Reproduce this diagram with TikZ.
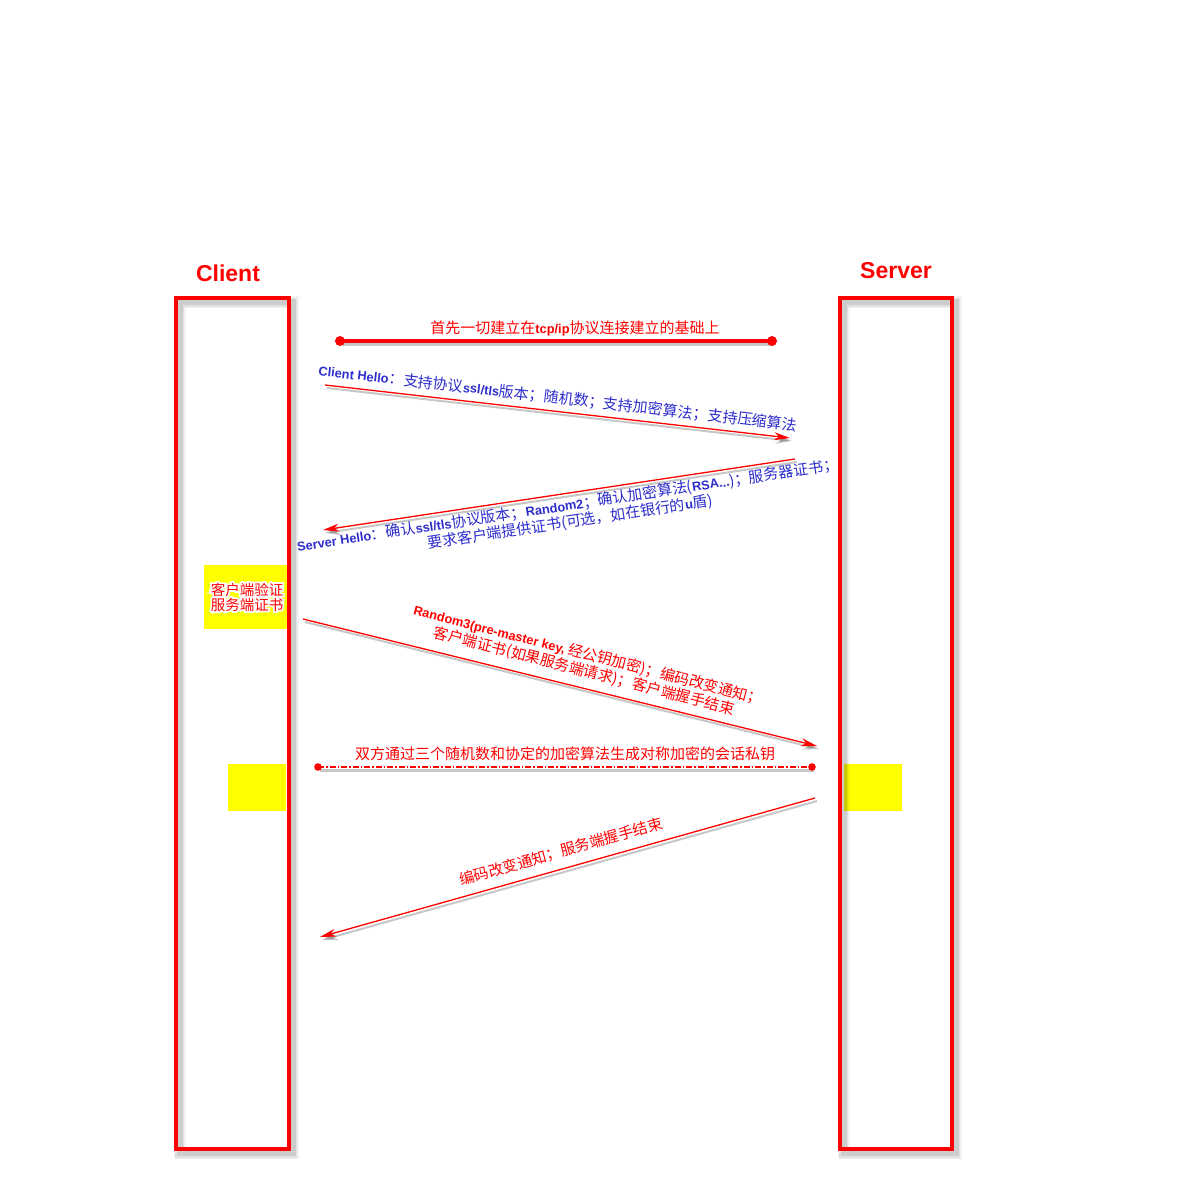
\documentclass[tikz,border=0pt]{standalone}
\usepackage{fontspec}
\setmainfont{Liberation Sans}
\newfontfamily\cjk{Noto Sans CJK SC}
\newfontfamily\cjkhalo{Noto Sans CJK SC}[FakeBold=25]
\usetikzlibrary{arrows.meta}
\definecolor{msgred}{RGB}{255,0,0}
\definecolor{msgblue}{RGB}{45,45,205}
\definecolor{hiyellow}{RGB}{255,255,0}
% bold Latin words inside the Chinese labels
\newcommand\lb[1]{{\rmfamily\bfseries\fontsize{12.8}{17}\selectfont #1}}
\begin{document}
\begin{tikzpicture}[x=1pt,y=-1pt,
  every node/.style={inner sep=0pt, outer sep=0pt, font=\cjk\fontsize{15}{17}\selectfont},
  lifebox/.style={draw=msgred, line width=4pt},
  actor/.style={text=msgred, font=\rmfamily\bfseries\fontsize{23}{26}\selectfont},
  hilite/.style={fill=hiyellow},
  msg/.style={draw=msgred, line width=1.3pt, -{Stealth[length=16pt,width=8pt,inset=5pt]}},
  msgshade/.style={draw=black, opacity=0.22, line width=2pt,
    -{Stealth[length=16pt,width=9pt,inset=5pt]},
    transform canvas={shift={(2pt,-3pt)}}},
  linkshade/.style={draw=black, opacity=0.22, line width=#1,
    transform canvas={shift={(2pt,-3pt)}}},
  rednote/.style={text=msgred},
  bluenote/.style={text=msgblue},
]
\useasboundingbox (0,0) rectangle (1200,1200);

% highlighted regions on the lifelines
\node (hl1) [hilite, minimum width=86pt, minimum height=64pt] at (247,597) {};
\node (hl2) [hilite, minimum width=58pt, minimum height=47pt] at (257,787.5) {};
\node (hl3) [hilite, minimum width=58pt, minimum height=47pt] at (873,787.5) {};

% lifeline boxes with soft shadows
\node (client) [minimum width=113pt, minimum height=851pt] at (232,723.5) {};
\node (server) [minimum width=112pt, minimum height=851pt] at (895.5,723.5) {};
\foreach \w/\o in {12/0.05, 9/0.07, 6/0.09} {
  \draw[black, opacity=\o, line width=\w pt]
    ([shift={(4,4)}]client.north west) rectangle ([shift={(4,4)}]client.south east);
  \draw[black, opacity=\o, line width=\w pt]
    ([shift={(4,4)}]server.north west) rectangle ([shift={(4,4)}]server.south east);
}
\draw[lifebox] (client.north west) rectangle (client.south east);
\draw[lifebox] (server.north west) rectangle (server.south east);

\node (clientlbl) [actor] at (228,273) {Client};
\node (serverlbl) [actor] at (896,271) {Server};

% note in the first highlighted region: a stroked white copy gives the halo
\node (hl1halo) [text=white, align=center, font=\cjkhalo\fontsize{14.5}{15}\selectfont]
  at (hl1.center) {客户端验证\\服务端证书};
\node (hl1txt) [rednote, align=center, font=\cjk\fontsize{14.5}{15}\selectfont]
  at (hl1.center) {客户端验证\\服务端证书};

% connection set-up
\coordinate (tcpA) at (340,341);
\coordinate (tcpB) at (772,341);
\draw[linkshade=4.5pt] (tcpA) -- (tcpB);
\draw[msgred, line width=3.5pt] (tcpA) -- (tcpB);
\fill[msgred] (tcpA) circle (5pt) (tcpB) circle (5pt);
\node (tcptxt) [rednote] at (575,328) {首先一切建立在\lb{tcp/ip}协议连接建立的基础上};

% Client Hello
\coordinate (chA) at (325,385);
\coordinate (chB) at (790,438);
\draw[msgshade] (chA) -- (chB);
\draw[msg] (chA) -- (chB);
\node (chtxt) [bluenote, rotate=-6.6] at (558,398)
  {\lb{Client Hello}：支持协议\lb{ssl/tls}版本；随机数；支持加密算法；支持压缩算法};

% Server Hello
\coordinate (shA) at (795,459);
\coordinate (shB) at (323,530);
\draw[msgshade] (shA) -- (shB);
\draw[msg] (shA) -- (shB);
\node (shtxt) [bluenote, rotate=8.6, align=center] at (569,514)
  {\lb{Server Hello}：确认\lb{ssl/tls}协议版本；\lb{Random2}；确认加密算法(\lb{RSA...})；服务器证书；\\
   要求客户端提供证书(可选，如在银行的\lb{u}盾)};

% client key exchange
\coordinate (kxA) at (303,619);
\coordinate (kxB) at (817,746);
\draw[msgshade] (kxA) -- (kxB);
\draw[msg] (kxA) -- (kxB);
\node (kxtxt) [rednote, rotate=-14.5, align=center] at (586,663)
  {\lb{Random3(pre-master key,} 经公钥加密)；编码改变通知；\\
   客户端证书(如果服务端请求)；客户端握手结束};

% session key derivation on both sides
\coordinate (skA) at (318,767);
\coordinate (skB) at (812,767);
\draw[linkshade=3pt] (skA) -- (skB);
\draw[msgred, line width=2.4pt, dash pattern=on 6pt off 2pt on 1.5pt off 2pt] (skA) -- (skB);
\fill[msgred] (skA) circle (3.8pt) (skB) circle (3.8pt);
\node (sktxt) [rednote] at (565,754) {双方通过三个随机数和协定的加密算法生成对称加密的会话私钥};

% server finished
\coordinate (sfA) at (815,798);
\coordinate (sfB) at (320,937);
\draw[msgshade] (sfA) -- (sfB);
\draw[msg] (sfA) -- (sfB);
\node (sftxt) [rednote, rotate=15.5] at (561,852) {编码改变通知；服务端握手结束};
\end{tikzpicture}
\end{document}
